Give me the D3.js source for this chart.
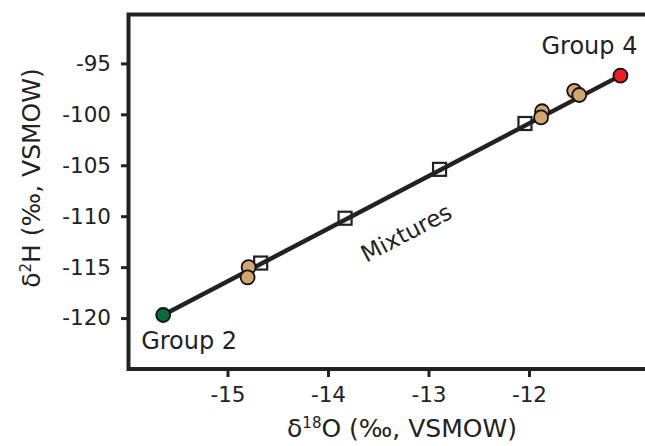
<!DOCTYPE html>
<html>
<head>
<meta charset="utf-8">
<script src="https://cdn.jsdelivr.net/npm/d3@7"></script>
<style>
    body { margin: 0; background: #fff; }
    text { font-family: "DejaVu Sans", sans-serif; fill: #222; }
</style>
</head>
<body>
<div id="chart"></div>
<script>

// end members (Group 2 and Group 4)
let endNames = ["Group 2", "Group 4"];
let endO = [-15.64, -11.09];
let endH = [-119.7, -96.2];

// mixing points on the line
let mixO = [-14.67, -13.83, -12.89, -12.04];
let mixH = [-114.6, -110.2, -105.4, -100.9];

// measured samples
let sampleO = [-14.79, -14.80, -11.87, -11.88, -11.55, -11.50];
let sampleH = [-115.0, -116.0, -99.7, -100.3, -97.7, -98.1];

let xTicks = [-15, -14, -13, -12];
let yTicks = [-95, -100, -105, -110, -115, -120];

let width = 645, height = 446;

let svg = d3.select("#chart").append("svg")
    .attr("width", width)
    .attr("height", height);

let x = d3.scaleLinear().domain([-16, -10.8]).range([127, 649.6]);
let y = d3.scaleLinear().domain([-125, -90.2]).range([369, 14.5]);

// frame (right side runs off the picture)
svg.append("path")
    .attr("d", `M${x(-10.8) + 10},${y(-90.2)} H${x(-16) + 1.5} V${y(-125)} H${x(-10.8) + 10}`)
    .attr("fill", "none")
    .attr("stroke", "#222")
    .attr("stroke-width", 4);

// axes, plain hyphen for minus as in the original
let fmt = d => String(d);
let xAxis = d3.axisBottom(x).tickValues(xTicks).tickSize(6).tickPadding(10).tickFormat(fmt);
let yAxis = d3.axisLeft(y).tickValues(yTicks).tickSize(6).tickPadding(10).tickFormat(fmt);

let gx = svg.append("g").attr("transform", `translate(0,${y(-125) + 2})`).call(xAxis);
let gy = svg.append("g").attr("transform", `translate(${x(-16)},0)`).call(yAxis);

[gx, gy].forEach(g => {
    g.select(".domain").remove();
    g.selectAll("line").attr("stroke", "#222").attr("stroke-width", 3);
    g.selectAll("text").attr("font-size", 21.5).attr("fill", "#222")
        .style("font-family", "'DejaVu Sans', sans-serif");
});
gx.selectAll("text").attr("dy", "0.72em");

// axis titles
let xt = svg.append("text")
    .attr("x", 402).attr("y", 437)
    .attr("text-anchor", "middle")
    .attr("font-size", 25);
xt.append("tspan").text("δ");
xt.append("tspan").text("18").attr("font-size", 15).attr("dy", -9);
xt.append("tspan").text("O (‰, VSMOW)").attr("dy", 9);

let yt = svg.append("text")
    .attr("transform", `translate(40,178) rotate(-90)`)
    .attr("text-anchor", "middle")
    .attr("font-size", 25);
yt.append("tspan").text("δ");
yt.append("tspan").text("2").attr("font-size", 15).attr("dy", -9);
yt.append("tspan").text("H (‰, VSMOW)").attr("dy", 9);

// mixing line
svg.append("line")
    .attr("x1", x(endO[0])).attr("y1", y(endH[0]))
    .attr("x2", x(endO[1])).attr("y2", y(endH[1]))
    .attr("stroke", "#222")
    .attr("stroke-width", 4.5);

// mixture squares
let sq = 13;
svg.selectAll(".mix")
    .data(mixO.map((d, i) => [d, mixH[i]]))
    .enter().append("rect")
    .attr("class", "mix")
    .attr("x", d => x(d[0]) - sq / 2)
    .attr("y", d => y(d[1]) - sq / 2)
    .attr("width", sq).attr("height", sq)
    .attr("fill", "none")
    .attr("stroke", "#222")
    .attr("stroke-width", 2.2);

// samples
svg.selectAll(".sample")
    .data(sampleO.map((d, i) => [d, sampleH[i]]))
    .enter().append("circle")
    .attr("class", "sample")
    .attr("cx", d => x(d[0]))
    .attr("cy", d => y(d[1]))
    .attr("r", 7)
    .attr("fill", "#d2a573")
    .attr("stroke", "#111")
    .attr("stroke-width", 1.8);

// end members
let endColors = ["#0b6b3a", "#ee1c24"];
svg.selectAll(".end")
    .data(endO.map((d, i) => [d, endH[i]]))
    .enter().append("circle")
    .attr("class", "end")
    .attr("cx", d => x(d[0]))
    .attr("cy", d => y(d[1]))
    .attr("r", 7)
    .attr("fill", (d, i) => endColors[i])
    .attr("stroke", "#111")
    .attr("stroke-width", 1.8);

// labels
svg.append("text").text(endNames[0])
    .attr("x", x(endO[0]) - 22).attr("y", y(endH[0]) + 34)
    .attr("font-size", 24);
svg.append("text").text(endNames[1])
    .attr("x", x(endO[1]) + 17).attr("y", y(endH[1]) - 22)
    .attr("text-anchor", "end")
    .attr("font-size", 24);

let ang = Math.atan2(y(endH[1]) - y(endH[0]), x(endO[1]) - x(endO[0])) * 180 / Math.PI;
svg.append("text").text("Mixtures")
    .attr("transform", `translate(410,240) rotate(${ang})`)
    .attr("text-anchor", "middle")
    .attr("font-size", 23);

</script>
</body>
</html>
